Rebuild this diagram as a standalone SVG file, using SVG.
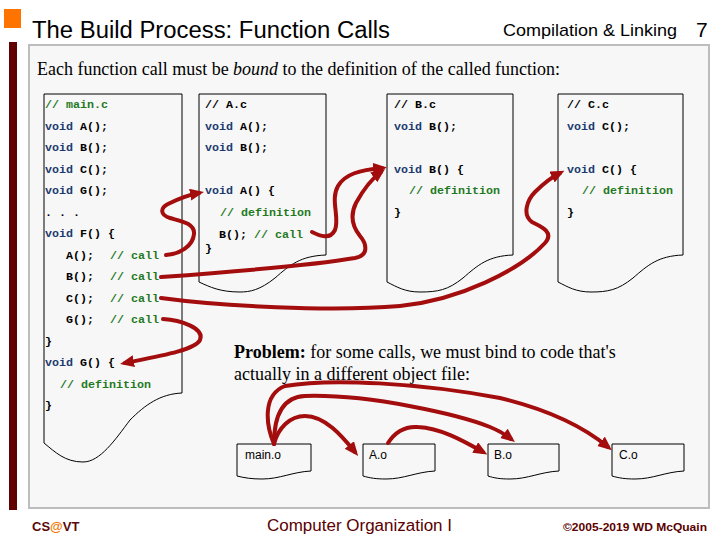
<svg xmlns="http://www.w3.org/2000/svg" width="720" height="540" viewBox="0 0 720 540">
<style>
.code{font-family:"Liberation Mono","Courier New",monospace;font-weight:bold;font-size:11.67px;fill:#000}
.kw{fill:#1c3a70}
.cm{fill:#1f7a1f}
.doc{fill:#f7f7f7;stroke:#000;stroke-width:1}
.arr{fill:none;stroke:#a30d0d;stroke-width:4;stroke-linecap:round;marker-end:url(#ah)}
.obj{font-family:"Liberation Sans",Arial,sans-serif;font-size:12px;fill:#000}
.serif{font-family:"Liberation Serif","Times New Roman",serif;font-size:18px;fill:#000}
</style>
<defs>
<marker id="ah" markerUnits="userSpaceOnUse" markerWidth="16" markerHeight="14" refX="9" refY="6" orient="auto">
<path d="M0,0 L14,6 L0,12 z" fill="#a30d0d"/>
</marker>
</defs>
<rect width="720" height="540" fill="#fff"/>
<g id="header">
<rect x="4" y="9" width="17" height="19" fill="#ff7300"/>
<text x="32" y="38" font-family="Liberation Sans,Arial,sans-serif" font-size="23" fill="#000" textLength="358" lengthAdjust="spacingAndGlyphs">The Build Process: Function Calls</text>
<text x="503" y="36" font-family="Liberation Sans,Arial,sans-serif" font-size="17" fill="#000" textLength="174" lengthAdjust="spacingAndGlyphs">Compilation &amp; Linking</text>
<text x="696" y="37" font-family="Liberation Sans,Arial,sans-serif" font-size="21" fill="#000">7</text>
</g>
<rect x="9" y="42" width="8" height="468" fill="#600000"/>
<rect x="29" y="45" width="680" height="463" fill="#f7f7f7" stroke="#bdbdbd" stroke-width="2"/>
<text class="serif" x="37" y="75" textLength="523" lengthAdjust="spacingAndGlyphs">Each function call must be <tspan font-style="italic">bound</tspan> to the definition of the called function:</text>

<g id="main_c">
<path class="doc" d="M44,94 H182 V393 C160,394 145,405 130,420 C115,440 100,462 83,462 C65,462 55,452 44,443 Z"/>
<text class="code" x="45" y="108"><tspan class="cm">// main.c</tspan></text>
<text class="code" x="45" y="130"><tspan class="kw">void</tspan> A();</text>
<text class="code" x="45" y="151"><tspan class="kw">void</tspan> B();</text>
<text class="code" x="45" y="173"><tspan class="kw">void</tspan> C();</text>
<text class="code" x="45" y="194"><tspan class="kw">void</tspan> G();</text>
<text class="code" x="45" y="216">. . .</text>
<text class="code" x="45" y="237"><tspan class="kw">void</tspan> F() {</text>
<text class="code" x="66" y="259">A();</text><text class="code cm" x="110" y="259">// call</text>
<text class="code" x="66" y="280">B();</text><text class="code cm" x="110" y="280">// call</text>
<text class="code" x="66" y="302">C();</text><text class="code cm" x="110" y="302">// call</text>
<text class="code" x="66" y="323">G();</text><text class="code cm" x="110" y="323">// call</text>
<text class="code" x="45" y="345">}</text>
<text class="code" x="45" y="366"><tspan class="kw">void</tspan> G() {</text>
<text class="code cm" x="60" y="388">// definition</text>
<text class="code" x="45" y="409">}</text>
</g>

<g id="a_c">
<path class="doc" d="M199,94 H326 V255 C300,256 290,265 275,278 C260,290 250,292 240,292 C220,292 210,287 199,282 Z"/>
<text class="code" x="205" y="108">// A.c</text>
<text class="code" x="205" y="130"><tspan class="kw">void</tspan> A();</text>
<text class="code" x="205" y="151"><tspan class="kw">void</tspan> B();</text>
<text class="code" x="205" y="194"><tspan class="kw">void</tspan> A() {</text>
<text class="code cm" x="220" y="216">// definition</text>
<text class="code" x="219" y="238">B(); <tspan class="cm">// call</tspan></text>
<text class="code" x="205" y="252">}</text>
</g>

<g id="b_c">
<path class="doc" d="M387,94 H513 V255 C488,256 478,265 463,278 C448,290 438,292 420,292 C405,292 397,287 387,282 Z"/>
<text class="code" x="394" y="108">// B.c</text>
<text class="code" x="394" y="130"><tspan class="kw">void</tspan> B();</text>
<text class="code" x="394" y="173"><tspan class="kw">void</tspan> B() {</text>
<text class="code cm" x="409" y="194">// definition</text>
<text class="code" x="394" y="216">}</text>
</g>

<g id="c_c">
<path class="doc" d="M558,94 H683 V255 C658,256 648,265 633,278 C618,290 608,292 591,292 C576,292 568,287 558,282 Z"/>
<text class="code" x="567" y="108">// C.c</text>
<text class="code" x="567" y="130"><tspan class="kw">void</tspan> C();</text>
<text class="code" x="567" y="173"><tspan class="kw">void</tspan> C() {</text>
<text class="code cm" x="582" y="194">// definition</text>
<text class="code" x="567" y="216">}</text>
</g>

<g id="problem">
<text class="serif" x="234" y="358"><tspan font-weight="bold">Problem:</tspan>  for some calls, we must bind to code that's</text>
<text class="serif" x="234" y="380">actually in a different object file:</text>
</g>

<g id="main_o">
<path class="doc" d="M237,444 H311 V471 C292,472 280,479 262,479 C252,479 245,478 237,476 Z"/>
<text class="obj" x="245" y="459">main.o</text>
</g>
<g id="a_o">
<path class="doc" d="M363,444 H435 V471 C416,472 404,479 386,479 C376,479 370,478 363,476 Z"/>
<text class="obj" x="369" y="459">A.o</text>
</g>
<g id="b_o">
<path class="doc" d="M488,444 H559 V471 C540,472 528,479 510,479 C500,479 494,478 488,476 Z"/>
<text class="obj" x="494" y="459">B.o</text>
</g>
<g id="c_o">
<path class="doc" d="M612,444 H684 V471 C665,472 653,479 635,479 C625,479 619,478 612,476 Z"/>
<text class="obj" x="619" y="459">C.o</text>
</g>

<g id="connectors">
<path class="arr" d="M166,255 C180,254 193,246 194,234 C195,223 180,221 170,218 C160,215 160,208 168,204 C178,199 188,195 199,193"/>
<path class="arr" d="M312,232 C320,236 330,240 335,230 C340,218 330,200 338,186 C345,174 360,170 382,168"/>
<path class="arr" d="M161,277 C230,272 320,264 355,258 C370,255 366,243 360,236 C352,226 350,215 356,203 C362,192 370,180 381,172"/>
<path class="arr" d="M161,298 C220,306 330,312 400,306 C460,300 520,270 545,243 C555,232 540,226 532,222 C522,215 527,200 535,192 C543,184 550,178 560,173"/>
<path class="arr" d="M163,319 C180,320 205,328 200,340 C195,350 160,356 125,363"/>
<path class="arr" d="M274,444 C278,428 290,416 305,416 C325,416 342,436 355,452"/>
<path class="arr" d="M274,444 C274,420 280,397 305,396 C370,394 460,415 490,427 C500,431 506,435 511,439"/>
<path class="arr" d="M274,444 C266,425 262,395 285,386 C330,378 420,383 500,398 C550,410 585,428 608,447"/>
<path class="arr" d="M388,443 C395,432 405,426 418,427 C440,428 462,440 483,452"/>
</g>

<g id="footer">
<text x="32" y="531" font-family="Liberation Sans,Arial,sans-serif" font-size="13" font-weight="bold" fill="#5a0a0a">CS<tspan fill="#f07800">@</tspan>VT</text>
<text x="267" y="531" font-family="Liberation Sans,Arial,sans-serif" font-size="16" fill="#5a0000" textLength="185" lengthAdjust="spacingAndGlyphs">Computer Organization I</text>
<text x="563" y="531" font-family="Liberation Sans,Arial,sans-serif" font-size="11" font-weight="bold" fill="#5a0000" textLength="144" lengthAdjust="spacingAndGlyphs">©2005-2019 WD McQuain</text>
</g>
</svg>
